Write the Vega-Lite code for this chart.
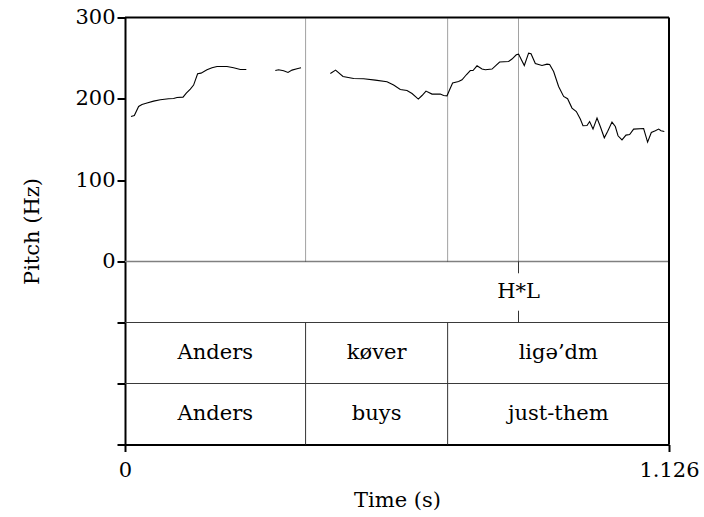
{
  "$schema": "https://vega.github.io/schema/vega-lite/v6.json",
  "width": 544,
  "height": 427,
  "autosize": {"type": "none"},
  "padding": {"left": 125, "top": 17.5, "right": 35, "bottom": 72.5},
  "background": "white",
  "config": {
    "view": {"stroke": null},
    "axis": {
      "grid": false,
      "domainColor": "black",
      "domainWidth": 2,
      "tickColor": "black",
      "tickWidth": 2,
      "labelFont": "DejaVu Serif",
      "titleFont": "DejaVu Serif",
      "labelFontSize": 21,
      "titleFontSize": 21,
      "labelColor": "black",
      "titleColor": "black",
      "titleFontWeight": "normal"
    }
  },
  "datasets": {
    "pitch": [
      {"seg": 1, "t": 0.0124, "f0": 178.3},
      {"seg": 1, "t": 0.0193, "f0": 179.5},
      {"seg": 1, "t": 0.0282, "f0": 190.6},
      {"seg": 1, "t": 0.0352, "f0": 193.0},
      {"seg": 1, "t": 0.0455, "f0": 194.8},
      {"seg": 1, "t": 0.0592, "f0": 197.2},
      {"seg": 1, "t": 0.0731, "f0": 198.8},
      {"seg": 1, "t": 0.0903, "f0": 200.1},
      {"seg": 1, "t": 0.1006, "f0": 200.4},
      {"seg": 1, "t": 0.1076, "f0": 201.6},
      {"seg": 1, "t": 0.1201, "f0": 202.1},
      {"seg": 1, "t": 0.1269, "f0": 207.1},
      {"seg": 1, "t": 0.1352, "f0": 212.0},
      {"seg": 1, "t": 0.1420, "f0": 216.9},
      {"seg": 1, "t": 0.1503, "f0": 230.8},
      {"seg": 1, "t": 0.1573, "f0": 231.6},
      {"seg": 1, "t": 0.1697, "f0": 235.7},
      {"seg": 1, "t": 0.1801, "f0": 238.2},
      {"seg": 1, "t": 0.1904, "f0": 239.8},
      {"seg": 1, "t": 0.2111, "f0": 239.8},
      {"seg": 1, "t": 0.2248, "f0": 238.2},
      {"seg": 1, "t": 0.2387, "f0": 236.1},
      {"seg": 1, "t": 0.2511, "f0": 236.1},
      {"seg": 2, "t": 0.3111, "f0": 234.8},
      {"seg": 2, "t": 0.3179, "f0": 235.7},
      {"seg": 2, "t": 0.3283, "f0": 234.5},
      {"seg": 2, "t": 0.3374, "f0": 232.4},
      {"seg": 2, "t": 0.3457, "f0": 235.3},
      {"seg": 2, "t": 0.3560, "f0": 236.9},
      {"seg": 2, "t": 0.3643, "f0": 238.2},
      {"seg": 3, "t": 0.4250, "f0": 231.2},
      {"seg": 3, "t": 0.4359, "f0": 235.3},
      {"seg": 3, "t": 0.4512, "f0": 227.5},
      {"seg": 3, "t": 0.4732, "f0": 225.0},
      {"seg": 3, "t": 0.4939, "f0": 224.6},
      {"seg": 3, "t": 0.5181, "f0": 223.0},
      {"seg": 3, "t": 0.5423, "f0": 221.0},
      {"seg": 3, "t": 0.5560, "f0": 216.9},
      {"seg": 3, "t": 0.5698, "f0": 211.5},
      {"seg": 3, "t": 0.5837, "f0": 210.3},
      {"seg": 3, "t": 0.5941, "f0": 206.6},
      {"seg": 3, "t": 0.6071, "f0": 199.7},
      {"seg": 3, "t": 0.6148, "f0": 204.1},
      {"seg": 3, "t": 0.6230, "f0": 209.5},
      {"seg": 3, "t": 0.6355, "f0": 205.8},
      {"seg": 3, "t": 0.6526, "f0": 205.8},
      {"seg": 3, "t": 0.6595, "f0": 204.1},
      {"seg": 3, "t": 0.6665, "f0": 203.7},
      {"seg": 3, "t": 0.6719, "f0": 211.1},
      {"seg": 3, "t": 0.6781, "f0": 219.4},
      {"seg": 3, "t": 0.6905, "f0": 221.3},
      {"seg": 3, "t": 0.6976, "f0": 223.4},
      {"seg": 3, "t": 0.7065, "f0": 229.6},
      {"seg": 3, "t": 0.7147, "f0": 234.8},
      {"seg": 3, "t": 0.7203, "f0": 234.8},
      {"seg": 3, "t": 0.7286, "f0": 240.6},
      {"seg": 3, "t": 0.7390, "f0": 236.6},
      {"seg": 3, "t": 0.7458, "f0": 235.7},
      {"seg": 3, "t": 0.7597, "f0": 236.6},
      {"seg": 3, "t": 0.7754, "f0": 245.2},
      {"seg": 3, "t": 0.7940, "f0": 245.9},
      {"seg": 3, "t": 0.8010, "f0": 248.9},
      {"seg": 3, "t": 0.8099, "f0": 254.2},
      {"seg": 3, "t": 0.8147, "f0": 255.0},
      {"seg": 3, "t": 0.8197, "f0": 248.9},
      {"seg": 3, "t": 0.8265, "f0": 241.0},
      {"seg": 3, "t": 0.8354, "f0": 256.2},
      {"seg": 3, "t": 0.8404, "f0": 255.4},
      {"seg": 3, "t": 0.8493, "f0": 243.5},
      {"seg": 3, "t": 0.8631, "f0": 241.0},
      {"seg": 3, "t": 0.8735, "f0": 242.7},
      {"seg": 3, "t": 0.8789, "f0": 242.2},
      {"seg": 3, "t": 0.8872, "f0": 233.6},
      {"seg": 3, "t": 0.8975, "f0": 215.2},
      {"seg": 3, "t": 0.9079, "f0": 202.9},
      {"seg": 3, "t": 0.9161, "f0": 200.1},
      {"seg": 3, "t": 0.9252, "f0": 188.6},
      {"seg": 3, "t": 0.9342, "f0": 184.4},
      {"seg": 3, "t": 0.9424, "f0": 175.1},
      {"seg": 3, "t": 0.9480, "f0": 166.9},
      {"seg": 3, "t": 0.9563, "f0": 167.2},
      {"seg": 3, "t": 0.9617, "f0": 172.1},
      {"seg": 3, "t": 0.9687, "f0": 162.8},
      {"seg": 3, "t": 0.9770, "f0": 176.3},
      {"seg": 3, "t": 0.9838, "f0": 166.0},
      {"seg": 3, "t": 0.9921, "f0": 152.1},
      {"seg": 3, "t": 0.9989, "f0": 159.8},
      {"seg": 3, "t": 1.0080, "f0": 171.4},
      {"seg": 3, "t": 1.0149, "f0": 166.0},
      {"seg": 3, "t": 1.0205, "f0": 154.6},
      {"seg": 3, "t": 1.0287, "f0": 149.6},
      {"seg": 3, "t": 1.0370, "f0": 155.4},
      {"seg": 3, "t": 1.0445, "f0": 156.2},
      {"seg": 3, "t": 1.0528, "f0": 162.8},
      {"seg": 3, "t": 1.0735, "f0": 163.5},
      {"seg": 3, "t": 1.0817, "f0": 146.8},
      {"seg": 3, "t": 1.0894, "f0": 158.6},
      {"seg": 3, "t": 1.0977, "f0": 160.7},
      {"seg": 3, "t": 1.1045, "f0": 162.8},
      {"seg": 3, "t": 1.1095, "f0": 160.7},
      {"seg": 3, "t": 1.1163, "f0": 159.8}
    ],
    "marks": [{"t": 0.3738}, {"t": 0.6678}, {"t": 0.8145}],
    "bounds": [{"t": 0.3738}, {"t": 0.6678}],
    "tones": [{"t": 0.8145, "label": "H*L"}],
    "words": [
      {"mid": 0.1869, "label": "Anders"},
      {"mid": 0.5208, "label": "køver"},
      {"mid": 0.8969, "label": "ligə’dm"}
    ],
    "gloss": [
      {"mid": 0.1869, "label": "Anders"},
      {"mid": 0.5208, "label": "buys"},
      {"mid": 0.8969, "label": "just-them"}
    ],
    "one": [{}]
  },
  "layer": [
    {
      "data": {"name": "one"},
      "mark": {"type": "rule", "color": "#808080", "strokeWidth": 1.5},
      "encoding": {
        "x": {"datum": 0, "type": "quantitative", "scale": {"domain": [0, 1.126], "nice": false, "zero": false},
          "axis": {"values": [0, 1.126], "labelExpr": "format(datum.value, '.4~f')", "labelFlush": false, "title": "Time (s)", "tickSize": 7, "labelBaseline": "middle", "labelPadding": 19, "titleBaseline": "middle", "titleY": 55.5}},
        "x2": {"datum": 1.126},
        "y": {"datum": 0, "type": "quantitative", "scale": {"domain": [-225, 300], "nice": false, "zero": false},
          "axis": {"values": [300, 200, 100, 0, -75, -150, -225], "labelExpr": "datum.value >= 0 ? datum.label : ''", "title": "Pitch (Hz)", "tickSize": 8, "labelPadding": 2, "titleX": -93, "titleY": 213.5, "titleBaseline": "middle", "titleAlign": "center", "titleAngle": -90}}
      }
    },
    {
      "data": {"name": "one"},
      "mark": {"type": "rule", "color": "#3a3a3a", "strokeWidth": 1},
      "encoding": {
        "x": {"datum": 0, "type": "quantitative"},
        "x2": {"datum": 1.126},
        "y": {"datum": -75, "type": "quantitative"}
      }
    },
    {
      "data": {"name": "one"},
      "mark": {"type": "rule", "color": "#3a3a3a", "strokeWidth": 1},
      "encoding": {
        "x": {"datum": 0, "type": "quantitative"},
        "x2": {"datum": 1.126},
        "y": {"datum": -150, "type": "quantitative"}
      }
    },
    {
      "data": {"name": "one"},
      "mark": {"type": "rule", "color": "black", "strokeWidth": 2},
      "encoding": {
        "x": {"datum": 0, "type": "quantitative"},
        "x2": {"datum": 1.126},
        "y": {"datum": 300, "type": "quantitative"}
      }
    },
    {
      "data": {"name": "one"},
      "mark": {"type": "rule", "color": "black", "strokeWidth": 2},
      "encoding": {
        "x": {"datum": 1.126, "type": "quantitative"},
        "y": {"datum": -225, "type": "quantitative"},
        "y2": {"datum": 300}
      }
    },
    {
      "data": {"name": "marks"},
      "mark": {"type": "rule", "color": "#444444", "strokeWidth": 1, "strokeDash": [1, 1]},
      "encoding": {
        "x": {"field": "t", "type": "quantitative"},
        "y": {"datum": 0, "type": "quantitative"},
        "y2": {"datum": 300}
      }
    },
    {
      "data": {"name": "bounds"},
      "mark": {"type": "rule", "color": "#333333", "strokeWidth": 1},
      "encoding": {
        "x": {"field": "t", "type": "quantitative"},
        "y": {"datum": -75, "type": "quantitative"},
        "y2": {"datum": -225}
      }
    },
    {
      "data": {"name": "tones"},
      "mark": {"type": "rule", "color": "#333333", "strokeWidth": 1},
      "encoding": {
        "x": {"field": "t", "type": "quantitative"},
        "y": {"datum": 0, "type": "quantitative"},
        "y2": {"datum": -14.5}
      }
    },
    {
      "data": {"name": "tones"},
      "mark": {"type": "rule", "color": "#333333", "strokeWidth": 1},
      "encoding": {
        "x": {"field": "t", "type": "quantitative"},
        "y": {"datum": -60.5, "type": "quantitative"},
        "y2": {"datum": -75}
      }
    },
    {
      "data": {"name": "pitch"},
      "mark": {"type": "line", "color": "black", "strokeWidth": 1.1},
      "encoding": {
        "x": {"field": "t", "type": "quantitative"},
        "y": {"field": "f0", "type": "quantitative"},
        "detail": {"field": "seg", "type": "nominal"}
      }
    },
    {
      "data": {"name": "tones"},
      "mark": {"type": "text", "fontSize": 21, "font": "DejaVu Serif", "color": "black", "align": "center", "baseline": "middle"},
      "encoding": {
        "x": {"field": "t", "type": "quantitative"},
        "y": {"datum": -37.5, "type": "quantitative"},
        "text": {"field": "label"}
      }
    },
    {
      "data": {"name": "words"},
      "mark": {"type": "text", "fontSize": 21, "font": "DejaVu Serif", "color": "black", "align": "center", "baseline": "middle"},
      "encoding": {
        "x": {"field": "mid", "type": "quantitative"},
        "y": {"datum": -112.5, "type": "quantitative"},
        "text": {"field": "label"}
      }
    },
    {
      "data": {"name": "gloss"},
      "mark": {"type": "text", "fontSize": 21, "font": "DejaVu Serif", "color": "black", "align": "center", "baseline": "middle"},
      "encoding": {
        "x": {"field": "mid", "type": "quantitative"},
        "y": {"datum": -187.5, "type": "quantitative"},
        "text": {"field": "label"}
      }
    }
  ]
}
